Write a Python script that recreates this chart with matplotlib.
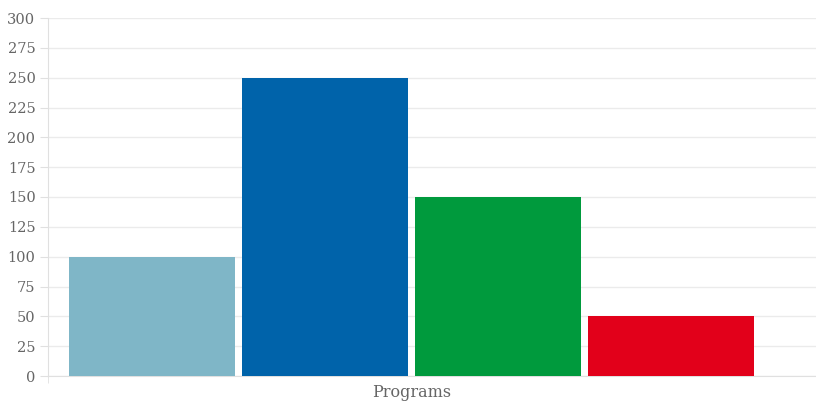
import matplotlib
matplotlib.use("Agg")
import matplotlib.pyplot as plt

categories = ["Programs"]
series_names = ["Series A", "Series B", "Series C", "Series D"]
values = [100, 250, 150, 50]
colors = ["#7FB6C7", "#0063AA", "#009A3D", "#E2001A"]
yticks = list(range(0, 301, 25))

W, H = 816, 408
fig = plt.figure(figsize=(W / 100, H / 100), dpi=100)
ax = fig.add_axes([48 / W, (H - 376) / H, (816 - 48) / W, (376 - 18) / H])

pos = list(range(len(values)))
ax.bar(pos, values, width=166 / 173, color=colors, linewidth=0, zorder=3)

xmin, xmax = (48 - 152) / 173, (816 - 152) / 173
ax.set_xlim(xmin, xmax)
ax.set_ylim(0, 300)
ax.set_yticks(yticks)
ax.set_yticklabels([str(t) for t in yticks])
ax.set_xticks([1.5])
ax.set_xticklabels(categories)
ax.set_xticks([xmin], minor=True)

for lab in ax.get_yticklabels():
    lab.set_fontfamily("DejaVu Serif")
    lab.set_fontsize(10.5)
    lab.set_color("#666666")
for lab in ax.get_xticklabels():
    lab.set_fontfamily("DejaVu Serif")
    lab.set_fontsize(11.5)
    lab.set_color("#666666")

ax.grid(axis="y", color="#EBEBEB", linewidth=1, zorder=0)
ax.tick_params(axis="y", length=6, color="#E0E0E0", pad=3)
ax.tick_params(axis="x", which="major", length=0, pad=6)
ax.tick_params(axis="x", which="minor", length=5, color="#E0E0E0")
for s in ["top", "right"]:
    ax.spines[s].set_visible(False)
ax.spines["left"].set_color("#E0E0E0")
ax.spines["bottom"].set_color("#E0E0E0")

fig.savefig("out.png", dpi=100)
